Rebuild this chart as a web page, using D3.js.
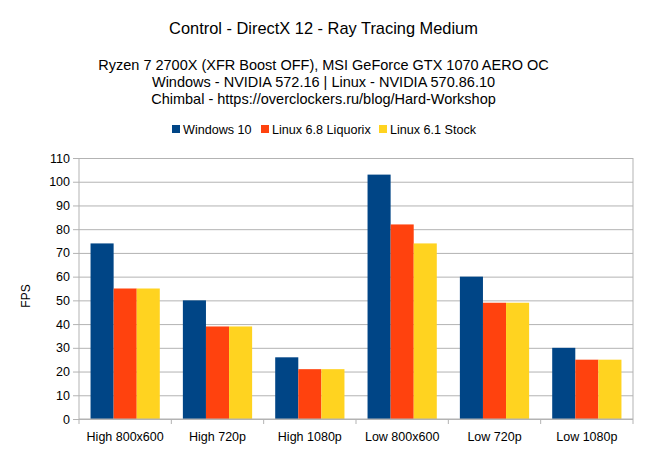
<!DOCTYPE html>
<html>
<head>
<meta charset="utf-8">
<script src="https://cdn.jsdelivr.net/npm/d3@7"></script>
<style>
  body { margin: 0; background: #fff; }
  text { font-family: "Liberation Sans", Arial, sans-serif; fill: #000; }
</style>
</head>
<body>
<svg id="chart" width="647" height="453"></svg>
<script>
// Chart data
const categories = ["High 800x600", "High 720p", "High 1080p", "Low 800x600", "Low 720p", "Low 1080p"];
const seriesNames = ["Windows 10", "Linux 6.8 Liquorix", "Linux 6.1 Stock"];
const windows10 = [74, 50, 26, 103, 60, 30];
const liquorix = [55, 39, 21, 82, 49, 25];
const stock61 = [55, 39, 21, 74, 49, 25];
const yTicks = [0, 10, 20, 30, 40, 50, 60, 70, 80, 90, 100, 110];
const colors = ["#004586", "#ff420e", "#ffd320"];

const allSeries = [windows10, liquorix, stock61];

const svg = d3.select("#chart");
const margin = { left: 79, right: 14, top: 158, bottom: 34 };
const width = 647 - margin.left - margin.right,
      height = 453 - margin.top - margin.bottom;

// Titles
svg.append("text").attr("x", 323.5).attr("y", 34).attr("text-anchor", "middle")
    .style("font-size", "16.4px").text("Control - DirectX 12 - Ray Tracing Medium");

const subLines = [
    "Ryzen 7 2700X (XFR Boost OFF), MSI GeForce GTX 1070 AERO OC",
    "Windows - NVIDIA 572.16 | Linux - NVIDIA 570.86.10",
    "Chimbal - https://overclockers.ru/blog/Hard-Workshop"
];
subLines.forEach((t, i) => {
    svg.append("text").attr("x", 323.5).attr("y", 70 + i * 17).attr("text-anchor", "middle")
        .style("font-size", "14.5px").text(t);
});

// Legend
const legendX = [172, 261, 379];
seriesNames.forEach((name, i) => {
    svg.append("rect").attr("x", legendX[i]).attr("y", 125).attr("width", 8).attr("height", 8)
        .attr("fill", colors[i]);
    svg.append("text").attr("x", legendX[i] + 11).attr("y", 133.5)
        .style("font-size", "12.6px").text(name);
});

const g = svg.append("g").attr("transform", "translate(" + margin.left + "," + margin.top + ")");

// Scales
const x = d3.scaleBand().domain(categories).range([0, width]).paddingInner(0.25).paddingOuter(0.125);
const xEdge = d3.scaleLinear().domain([0, categories.length]).range([0, width]);
const y = d3.scaleLinear().domain([0, 110]).range([height, 0]);

// Gridlines
g.append("g")
    .call(d3.axisLeft(y).tickValues(yTicks).tickSize(-width).tickFormat(""))
    .call(s => s.select(".domain").remove())
    .call(s => s.selectAll("line").attr("stroke", "#b3b3b3").attr("x1", -6));

// Right border
g.append("line").attr("x1", width).attr("x2", width).attr("y1", 0).attr("y2", height)
    .attr("stroke", "#b3b3b3");

// Bars
const sub = d3.scaleBand().domain(d3.range(seriesNames.length)).range([0, x.bandwidth()]);
allSeries.forEach((vals, si) => {
    g.selectAll(".bar" + si).data(vals).enter().append("rect")
        .attr("x", (d, i) => x(categories[i]) + sub(si))
        .attr("y", d => y(d))
        .attr("width", sub.bandwidth())
        .attr("height", d => height - y(d))
        .attr("fill", colors[si]);
});

// Y axis
g.append("line").attr("x1", 0).attr("x2", 0).attr("y1", 0).attr("y2", height).attr("stroke", "#b3b3b3");
g.selectAll(".ylab").data(yTicks).enter().append("text")
    .attr("x", -9).attr("y", d => y(d) + 4.5).attr("text-anchor", "end")
    .style("font-size", "12.5px").text(d => d);

// X axis
g.append("line").attr("x1", 0).attr("x2", width).attr("y1", height).attr("y2", height).attr("stroke", "#b3b3b3");
g.selectAll(".xtick").data(d3.range(categories.length + 1)).enter().append("line")
    .attr("x1", d => xEdge(d)).attr("x2", d => xEdge(d))
    .attr("y1", height).attr("y2", height + 5).attr("stroke", "#b3b3b3");
g.selectAll(".xlab").data(categories).enter().append("text")
    .attr("x", d => x(d) + x.bandwidth() / 2).attr("y", height + 22).attr("text-anchor", "middle")
    .style("font-size", "12.5px").text(d => d);

// Y axis title
svg.append("text").attr("transform", "translate(30,296) rotate(-90)")
    .attr("text-anchor", "middle").style("font-size", "12px").text("FPS");
</script>
</body>
</html>
